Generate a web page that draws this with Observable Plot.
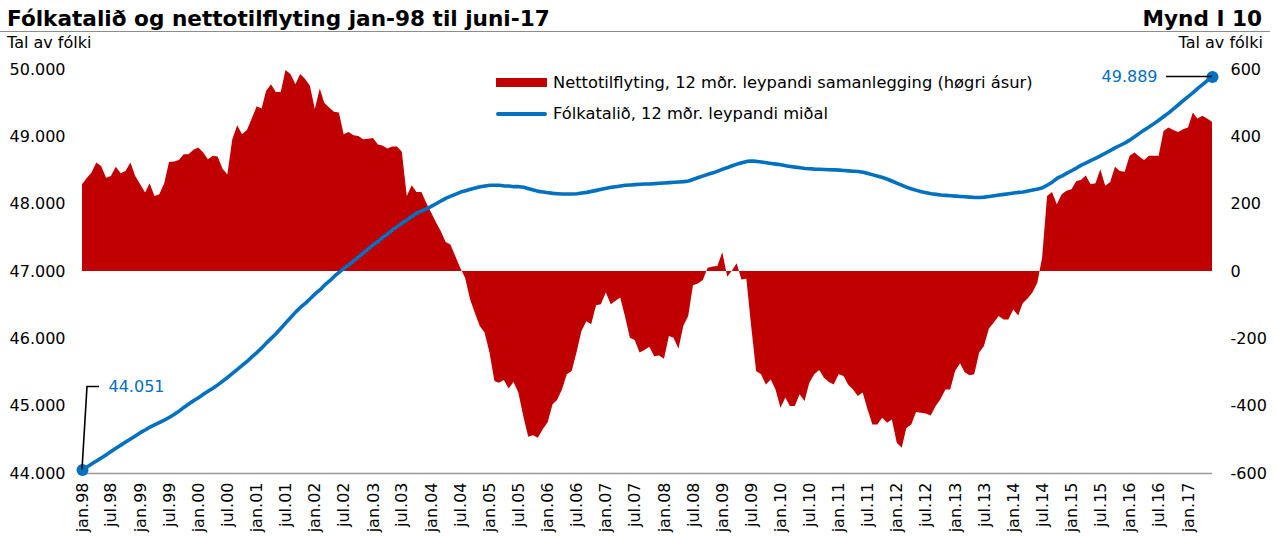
<!DOCTYPE html>
<html>
<head>
<meta charset="utf-8">
<script src="https://cdn.jsdelivr.net/npm/d3@7"></script>
<script src="https://cdn.jsdelivr.net/npm/@observablehq/plot@0.6"></script>
<style>
  html, body { margin: 0; padding: 0; background: #fff; }
  #wrap { position: relative; width: 1279px; height: 538px; overflow: hidden; font-family: "DejaVu Sans", Verdana, sans-serif; color: #000; }
  #wrap svg { position: absolute; left: 0; top: 0; overflow: visible; }
  .t { position: absolute; white-space: nowrap; line-height: 1; }
  .title { font-weight: bold; font-size: 21.6px; }
  .unit { font-size: 16px; }
  .rule { position: absolute; left: 0; top: 31px; width: 1270px; height: 0; border-top: 1.5px solid #8c8c8c; }
  .sw-area { position: absolute; left: 496px; top: 78px; width: 51px; height: 9px; background: #C00000; }
  .sw-line { position: absolute; left: 496px; top: 112px; width: 51px; height: 4px; border-radius: 2px; background: #0070C0; }
  .leg { font-size: 16.3px; }
</style>
</head>
<body>
<div id="wrap">
  <div id="area"></div>
  <div id="line"></div>
  <div class="t title" style="left:7px; top:8px;">Fólkatalið og nettotilflyting jan-98 til juni-17</div>
  <div class="t title" style="right:17px; top:8px;">Mynd I 10</div>
  <div class="rule"></div>
  <div class="t unit" style="left:7px; top:35px;">Tal av fólki</div>
  <div class="t unit" style="right:16px; top:35px;">Tal av fólki</div>
  <div class="sw-area"></div>
  <div class="t leg" style="left:553px; top:75px;">Nettotilflyting, 12 mðr. leypandi samanlegging (høgri ásur)</div>
  <div class="sw-line"></div>
  <div class="t leg" style="left:553px; top:106px;">Fólkatalið, 12 mðr. leypandi miðal</div>
</div>
<script>
// ---- DATA ----
const startYear = 1998;   // first month: jan.98
const monthCount = 234;   // jan.98 .. jun.17

// Nettotilflyting, 12 mðr. leypandi samanlegging (right axis)
const netMigration = [
  258, 277, 292, 322, 312, 277, 282, 310, 290, 297,
  322, 282, 258, 233, 261, 223, 228, 261, 324, 325,
  330, 347, 347, 360, 367, 352, 332, 342, 340, 304,
  287, 391, 433, 406, 419, 453, 489, 483, 535, 555,
  532, 532, 597, 585, 555, 585, 570, 550, 481, 542,
  500, 486, 473, 471, 406, 413, 403, 401, 391, 393,
  395, 376, 373, 364, 370, 370, 354, 223, 255, 235,
  235, 203, 174, 144, 119, 86, 79, 44, 10, -20,
  -84, -124, -163, -183, -242, -327, -332, -324, -349, -330,
  -361, -431, -492, -488, -495, -470, -449, -396, -383, -352,
  -307, -297, -242, -178, -149, -158, -102, -99, -64, -99,
  -89, -79, -134, -198, -205, -242, -235, -225, -253, -251,
  -261, -193, -198, -231, -163, -134, -42, -37, -27, 10,
  13, 15, 56, -17, 0, 23, -25, -23, -163, -297,
  -307, -337, -322, -352, -406, -376, -401, -401, -366, -386,
  -332, -307, -294, -317, -330, -337, -307, -312, -337, -352,
  -371, -361, -411, -456, -456, -436, -451, -441, -510, -525,
  -466, -456, -419, -421, -423, -429, -401, -381, -352, -352,
  -297, -274, -300, -310, -307, -242, -223, -171, -153, -134,
  -144, -144, -114, -132, -96, -82, -64, -35, 40, 223,
  235, 198, 228, 238, 243, 267, 270, 284, 258, 261,
  302, 253, 264, 310, 297, 295, 342, 352, 340, 330,
  342, 342, 342, 416, 426, 419, 413, 421, 426, 471,
  453, 461, 453, 443
];

// Fólkatalið, 12 mðr. leypandi miðal (left axis)
const population = [
  44051, 44100, 44145, 44190, 44235, 44280, 44330, 44380, 44425, 44470,
  44515, 44560, 44610, 44650, 44690, 44725, 44760, 44795, 44835, 44880,
  44930, 44985, 45035, 45085, 45130, 45180, 45225, 45270, 45320, 45375,
  45430, 45490, 45550, 45610, 45670, 45735, 45800, 45870, 45940, 46010,
  46080, 46160, 46240, 46320, 46400, 46470, 46530, 46600, 46670, 46730,
  46800, 46860, 46930, 46990, 47050, 47100, 47160, 47220, 47280, 47340,
  47400, 47450, 47510, 47560, 47620, 47670, 47720, 47770, 47820, 47870,
  47900, 47930, 47970, 48010, 48050, 48090, 48120, 48150, 48180, 48200,
  48220, 48240, 48260, 48270, 48280, 48280, 48280, 48270, 48270, 48260,
  48260, 48250, 48230, 48210, 48190, 48180, 48170, 48160, 48155, 48150,
  48150, 48150, 48155, 48165, 48175, 48190, 48205, 48220, 48235, 48250,
  48260, 48270, 48280, 48285, 48290, 48295, 48300, 48300, 48305, 48310,
  48315, 48320, 48325, 48330, 48335, 48345, 48370, 48395, 48420, 48445,
  48465, 48490, 48520, 48545, 48570, 48595, 48615, 48635, 48640, 48635,
  48625, 48615, 48605, 48595, 48585, 48570, 48560, 48550, 48540, 48530,
  48525, 48520, 48518, 48515, 48512, 48510, 48505, 48500, 48495, 48490,
  48485, 48475, 48455, 48435, 48415, 48395, 48370, 48340, 48310, 48280,
  48250, 48225, 48205, 48185, 48170, 48155, 48145, 48135, 48130, 48125,
  48120, 48115, 48110, 48105, 48100, 48100, 48105, 48115, 48125, 48135,
  48145, 48155, 48165, 48175, 48180, 48195, 48210, 48225, 48245, 48285,
  48330, 48385, 48420, 48460, 48500, 48540, 48580, 48615, 48650, 48685,
  48720, 48760, 48800, 48840, 48875, 48910, 48955, 49005, 49055, 49105,
  49150, 49200, 49250, 49305, 49360, 49420, 49480, 49540, 49600, 49660,
  49720, 49780, 49840, 49889
];

const xTickLabels = [
  "jan.98","jul.98","jan.99","jul.99","jan.00","jul.00","jan.01","jul.01",
  "jan.02","jul.02","jan.03","jul.03","jan.04","jul.04","jan.05","jul.05",
  "jan.06","jul.06","jan.07","jul.07","jan.08","jul.08","jan.09","jul.09",
  "jan.10","jul.10","jan.11","jul.11","jan.12","jul.12","jan.13","jul.13",
  "jan.14","jul.14","jan.15","jul.15","jan.16","jul.16","jan.17"
];
const leftTicks = [44000, 45000, 46000, 47000, 48000, 49000, 50000];
const rightTicks = [-600, -400, -200, 0, 200, 400, 600];

// ---- BUILD ----
const dates = d3.range(monthCount).map(i => new Date(Date.UTC(startYear, i, 1)));
const tickDates = xTickLabels.map((_, i) => new Date(Date.UTC(startYear, i * 6, 1)));
const labelOf = d => xTickLabels[Math.round(((d.getUTCFullYear() - startYear) * 12 + d.getUTCMonth()) / 6)];
const migData = netMigration.map((v, i) => ({date: dates[i], v}));
const popData = population.map((v, i) => ({date: dates[i], v}));
const ends = [popData[0], popData[popData.length - 1]];
const thousands = d => d3.format(",")(d).replace(/,/g, ".");

const W = 1279, H = 538;
const common = {
  width: W, height: H,
  marginLeft: 82, marginRight: 67, marginTop: 69, marginBottom: 65,
  x: {type: "utc", domain: [dates[0], dates[dates.length - 1]]}
};
const FONT = "'DejaVu Sans', Verdana, sans-serif";

const areaChart = Plot.plot({
  ...common,
  style: {background: "#fff", fontFamily: FONT, fontSize: "16px", color: "#000"},
  y: {domain: [-600, 600]},
  marks: [
    Plot.areaY(migData, {x: "date", y: "v", fill: "#C00000", curve: "linear"}),
    Plot.axisY({anchor: "right", ticks: rightTicks, tickSize: 0, tickPadding: 18,
      tickFormat: d => String(d), label: null, fontSize: 16, fill: "#000"}),
    Plot.axisX({ticks: [], label: null, tickSize: 0})
  ]
});
document.getElementById("area").appendChild(areaChart);

function leaders(index, scales) {
  const {x, y} = scales;
  const a = ends[0], b = ends[1];
  const x0 = x(a.date), y0 = y(a.v), x1 = x(b.date), y1 = y(b.v);
  const g = d3.create("svg:g")
    .attr("fill", "none").attr("stroke", "#000").attr("stroke-width", 1.6);
  g.append("path").attr("d", `M${x0},${y0}L${x0 + 5},${y0 - 83}H${x0 + 17}`);
  g.append("path").attr("d", `M${x1 - 46},${y1}H${x1}`);
  return g.node();
}

const lineChart = Plot.plot({
  ...common,
  style: {background: "transparent", fontFamily: FONT, fontSize: "16px", color: "#000"},
  y: {domain: [44000, 50000]},
  marks: [
    Plot.ruleY([44000], {stroke: "#9a9a9a", strokeWidth: 1.5}),
    Plot.axisY({anchor: "left", ticks: leftTicks, tickSize: 0, tickPadding: 17,
      tickFormat: thousands, label: null, fontSize: 16, fill: "#000"}),
    Plot.axisX({ticks: tickDates, tickFormat: labelOf, tickRotate: -90, tickSize: 0,
      tickPadding: 9, label: null, fontSize: 16, fill: "#000"}),
    Plot.lineY(popData, {x: "date", y: "v", stroke: "#0070C0", strokeWidth: 3.6,
      strokeLinejoin: "round", strokeLinecap: "round"}),
    Plot.dot(ends, {x: "date", y: "v", r: 6, fill: "#0070C0"}),
    leaders,
    Plot.text([ends[0]], {x: "date", y: "v", text: d => thousands(d.v), dx: 26, dy: -83,
      textAnchor: "start", fill: "#0070C0", fontSize: 16}),
    Plot.text([ends[1]], {x: "date", y: "v", text: d => thousands(d.v), dx: -55, dy: 0,
      textAnchor: "end", fill: "#0070C0", fontSize: 16})
  ]
});
document.getElementById("line").appendChild(lineChart);
</script>
</body>
</html>
